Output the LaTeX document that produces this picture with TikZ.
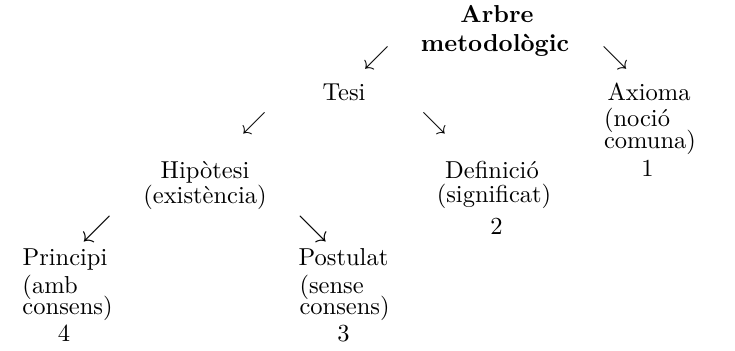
\documentclass[tikz,border=0pt]{standalone}
\usepackage{amssymb}
\begin{document}
\begin{tikzpicture}[x=0.408163pt,y=-0.408163pt,
  lbl/.style={inner sep=0pt,outer sep=0pt,anchor=base},
  lbll/.style={inner sep=0pt,outer sep=0pt,anchor=base west},
  arr/.style={inner sep=0pt,outer sep=0pt,anchor=center}]
\useasboundingbox (0,0) rectangle (735,350);
% root
\node[lbl,font=\bfseries] (arbre) at (497,23) {Arbre};
\node[lbl,font=\bfseries] (metod) at (495,51.7) {metodològic};
\node[arr,scale=1.05] (a1) at (376.5,58.5) {$\swarrow$};
\node[arr,scale=1.05] (a2) at (615,58.5) {$\searrow$};
% level 1
\node[lbl] (tesi) at (344,100) {Tesi};
\node[lbl] (axioma) at (649,100.7) {Axioma};
\node[lbll] (axp1) at (604,126.7) {(noció};
\node[lbll] (axp2) at (604,148) {comuna)};
\node[lbl] (axn) at (647.5,176.7) {1};
\node[arr] (a3) at (254,123.5) {$\swarrow$};
\node[arr] (a4) at (434,123) {$\searrow$};
% level 2
\node[lbl] (hipo) at (205,178) {Hipòtesi};
\node[lbl] (hipp) at (205,203) {(existència)};
\node[lbl] (defi) at (492,178) {Definició};
\node[lbl] (defp) at (494,202) {(significat)};
\node[lbl] (defn) at (496.5,234) {2};
\node[arr,scale=1.2] (a5) at (96.7,229.4) {$\swarrow$};
\node[arr,scale=1.2] (a6) at (313,229.2) {$\searrow$};
% level 3
\node[lbl] (prin) at (65,265) {Principi};
\node[lbll] (prp1) at (22.5,293) {(amb};
\node[lbll] (prp2) at (22.5,314) {consens)};
\node[lbl] (prn) at (64,341.5) {4};
\node[lbl] (post) at (343.5,265) {Postulat};
\node[lbll] (pop1) at (299.5,293) {(sense};
\node[lbll] (pop2) at (299.5,314) {consens)};
\node[lbl] (pon) at (343.5,341) {3};
\end{tikzpicture}
\end{document}
